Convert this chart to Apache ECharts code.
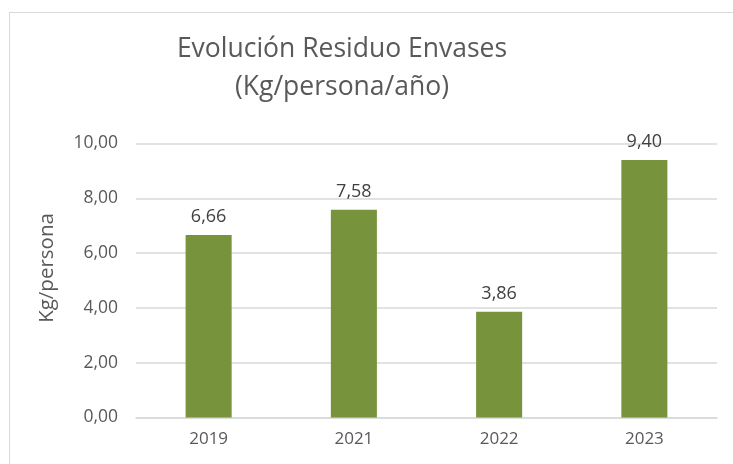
<!DOCTYPE html>
<html><head><meta charset="utf-8">
<script src="https://cdn.jsdelivr.net/npm/echarts@6/dist/echarts.min.js"></script>
<style>html,body{margin:0;padding:0;background:#fff}#c{width:733px;height:464px}
#frame{position:absolute;left:9px;top:12px;width:740px;height:470px;border:1px solid #d9d9d9;box-sizing:border-box;pointer-events:none}</style>
</head><body><div id="c"></div><div id="frame"></div>
<script>
const categories = ['2019', '2021', '2022', '2023'];
const values = [6.66, 7.58, 3.86, 9.40];
const yTicks = [0, 2, 4, 6, 8, 10];
const titleLines = ['Evolución Residuo Envases', '(Kg/persona/año)'];
const yName = 'Kg/persona';

const fmt = v => v.toFixed(2).replace('.', ',');
const chart = echarts.init(document.getElementById('c'), null, {renderer: 'canvas'});
const font = '"Open Sans", "Noto Sans", sans-serif';
chart.setOption({
  animation: false,
  title: {
    text: titleLines.join('\n'),
    left: 337, top: 25.5, textAlign: 'center',
    textStyle: {fontFamily: font, fontSize: 26.5, fontWeight: 'normal', color: '#595959', lineHeight: 38}
  },
  graphic: [{
    type: 'text', x: 47, y: 268, rotation: Math.PI / 2,
    style: {text: yName, fontFamily: font, fontSize: 20.5, fill: '#595959', align: 'center', verticalAlign: 'middle'}
  }],
  grid: {left: 136, right: 16, top: 143.5, bottom: 46.5, containLabel: false},
  xAxis: {
    type: 'category', data: categories,
    axisLine: {show: true, lineStyle: {color: '#d9d9d9', width: 1.5}},
    axisTick: {show: false},
    axisLabel: {fontFamily: font, fontSize: 17, color: '#595959', margin: 13}
  },
  yAxis: {
    type: 'value', min: yTicks[0], max: yTicks[yTicks.length - 1], interval: yTicks[1] - yTicks[0],
    axisLine: {show: false}, axisTick: {show: false},
    splitLine: {lineStyle: {color: '#d9d9d9', width: 1.5}},
    axisLabel: {fontFamily: font, fontSize: 17.5, color: '#595959', margin: 18, formatter: v => fmt(v)}
  },
  series: [{
    type: 'bar', data: values, barWidth: '31.7%',
    itemStyle: {color: '#77933c'},
    label: {show: true, position: 'top', distance: 9, fontFamily: font, fontSize: 18, color: '#404040', formatter: p => fmt(p.value)}
  }]
});
</script></body></html>
